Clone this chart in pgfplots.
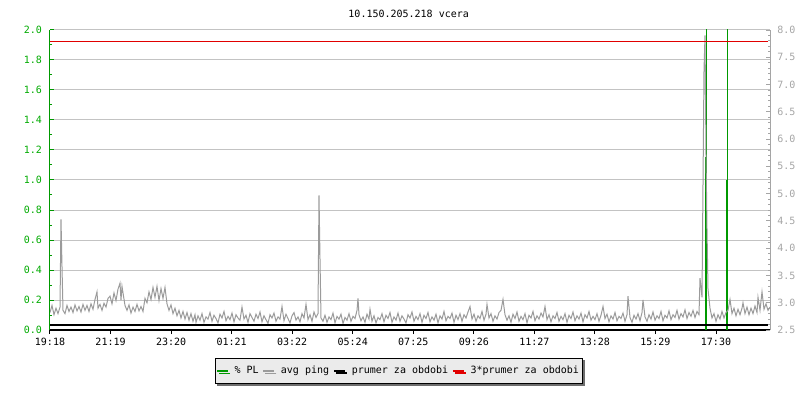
\documentclass[border=0pt]{standalone}
\usepackage{pgfplots}
\pgfplotsset{compat=1.18}
\usepackage{fontspec}
\setmainfont{DejaVu Sans Mono}
\usetikzlibrary{shadows}
\definecolor{plgreen}{RGB}{0,153,0}
\definecolor{labgreen}{RGB}{0,170,0}
\definecolor{pinggray}{RGB}{155,155,155}
\definecolor{gridgray}{RGB}{195,195,195}
\definecolor{rlabgray}{RGB}{165,165,165}
\definecolor{meanred}{RGB}{225,0,0}
\definecolor{legfill}{RGB}{235,235,235}
\definecolor{shadowgray}{RGB}{110,110,110}
\pgfplotsset{
  base/.style={scale only axis, width=540pt, height=225pt, at={(0,0)}, anchor=south west,
    xmin=0, xmax=1440,
    /pgf/number format/assume math mode=true,
    tick label style={font=\fontsize{7.5}{9}\selectfont},
    major tick length=3pt, minor tick length=1.8pt, tick align=inside,
  }
}
\begin{document}
\begin{tikzpicture}
\useasboundingbox (-37.5pt,-52.5pt) rectangle (562.5pt,247.5pt);
\begin{axis}[base,
  ymin=0, ymax=2,
  axis x line*=bottom, axis y line*=left,
  xtick={0,121.09,242.18,363.27,484.36,605.45,726.55,847.64,968.73,1089.82,1210.91,1332},
  xticklabels={19:18,21:19,23:20,01:21,03:22,05:24,07:25,09:26,11:27,13:28,15:29,17:30},
  x axis line style={black, line width=0.9pt, -},
  y axis line style={plgreen, line width=0.75pt, -},
  ytick={0,0.2,0.4,0.6,0.8,1.0,1.2,1.4,1.6,1.8,2.0},
  minor y tick num=1,
  yticklabel style={labgreen, xshift=-2.5pt, /pgf/number format/.cd, fixed, fixed zerofill, precision=1},
  xticklabel style={black, yshift=-2.5pt},
  ymajorgrids, major grid style={gridgray, line width=0.75pt},
  xtick style={black, line width=0.75pt, yshift=-3pt},
  ytick style={plgreen, line width=0.75pt},
]
\addplot[plgreen, line width=0.75pt, ycomb, mark=none] coordinates {(1310,1.15)(1312,2.1)(1353,1.0)(1355,2.1)};
\end{axis}
\begin{axis}[base,
  ymin=2.5, ymax=8,
  axis y line*=right, axis x line=none,
  ytick={2.5,3,3.5,4,4.5,5,5.5,6,6.5,7,7.5,8},
  minor y tick num=4,
  yticklabel style={rlabgray, xshift=2pt, /pgf/number format/.cd, fixed, fixed zerofill, precision=1},
  y axis line style={rlabgray, line width=0.75pt, -},
  ytick style={rlabgray, line width=0.75pt},
  legend columns=4,
  legend cell align=left,
  legend style={at={(0.4847,-0.1367)}, anchor=center, fill=legfill, draw=black, line width=0.75pt,
    font=\fontsize{7.5}{9}\selectfont,
    drop shadow={shadow xshift=1.5pt, shadow yshift=-1.5pt, fill=shadowgray, opacity=1},
    /tikz/every odd column/.append style={column sep=0.5pt},
    /tikz/every even column/.append style={column sep=1pt},
    inner xsep=1pt, inner ysep=4pt},
  legend image code/.code={\draw[#1, line width=1.1pt] (0pt,0pt) -- (8.25pt,0pt); \path (10.25pt,0pt);},
]
\addlegendimage{plgreen}
\addlegendentry{\% PL}
\addplot[pinggray, line width=0.75pt, mark=none] coordinates {
(0,2.82)(4,2.95)(8,2.78)(12,2.90)(16,2.80)(20,2.92)(22,4.53)(24,3.66)(26,2.86)(30,2.80)(34,2.95)(38,2.84)(42,2.92)(46,2.82)(50,2.96)(54,2.85)(58,2.93)(62,2.83)(66,2.97)(70,2.86)(74,2.95)(78,2.84)(82,2.98)(86,2.88)(90,3.06)(94,3.20)(96,2.90)(100,2.97)(104,2.86)(108,2.99)(112,2.92)(116,3.08)(120,3.12)(124,2.98)(128,3.18)(132,3.04)(136,3.25)(140,3.36)(142,3.05)(144,3.30)(146,3.18)(150,2.95)(154,2.86)(158,2.96)(162,2.81)(166,2.92)(170,2.84)(174,2.97)(178,2.85)(182,2.93)(186,2.84)(190,3.08)(194,3.00)(198,3.20)(202,3.06)(206,3.28)(210,3.10)(214,3.30)(218,3.04)(222,3.26)(226,3.08)(230,3.28)(234,2.98)(238,2.86)(242,2.96)(246,2.80)(250,2.90)(254,2.76)(258,2.86)(262,2.72)(266,2.84)(270,2.70)(274,2.82)(278,2.68)(282,2.80)(286,2.66)(290,2.78)(292,2.64)
(296,2.76)(300,2.68)(304,2.80)(308,2.64)(312,2.74)(316,2.70)(320,2.82)(324,2.66)(328,2.77)(332,2.71)(336,2.63)(340,2.79)(344,2.72)(348,2.84)(352,2.67)(356,2.75)(360,2.69)(364,2.81)(368,2.65)(372,2.78)(376,2.72)(380,2.68)(384,2.92)(388,2.70)(392,2.77)(396,2.64)(400,2.80)(404,2.73)(408,2.66)(412,2.79)(416,2.71)(420,2.83)(424,2.65)(428,2.76)(432,2.69)(436,2.62)(440,2.78)(444,2.72)(448,2.81)(452,2.66)(456,2.74)(460,2.70)(464,2.93)(468,2.67)(472,2.79)(476,2.71)(480,2.63)(484,2.76)(488,2.82)(492,2.68)(496,2.74)(500,2.65)(504,2.80)(508,2.72)(512,2.97)(516,2.69)(520,2.78)(524,2.66)(528,2.83)(532,2.73)(536,2.80)(538,4.97)(540,3.80)(542,2.72)(546,2.66)(550,2.77)(554,2.64)(558,2.74)(562,2.69)(566,2.81)(570,2.63)(574,2.75)(578,2.70)(582,2.79)(586,2.62)(590,2.73)(594,2.68)(598,2.80)(602,2.66)(606,2.75)(610,2.71)(614,2.86)(616,3.08)(618,2.78)(622,2.67)(626,2.74)(630,2.64)(634,2.79)(638,2.70)(640,2.88)(644,2.66)(648,2.76)(652,2.63)(656,2.73)(660,2.69)(664,2.80)(668,2.65)(672,2.77)(676,2.71)(680,2.82)(684,2.64)(688,2.74)(692,2.68)(696,2.81)(700,2.66)(704,2.76)(708,2.70)(712,2.63)(716,2.78)(720,2.72)(724,2.83)(728,2.66)(732,2.75)(736,2.69)(740,2.80)(744,2.64)(748,2.77)(752,2.71)(756,2.82)(760,2.65)(764,2.74)(768,2.68)(772,2.79)(776,2.63)(780,2.76)(784,2.70)(788,2.84)(792,2.67)(796,2.75)(800,2.71)(804,2.81)(808,2.64)(812,2.77)(816,2.69)(820,2.80)(824,2.66)(828,2.78)(832,2.72)(836,2.83)(840,2.93)(844,2.70)(848,2.79)(852,2.66)(856,2.76)(860,2.71)(864,2.84)(868,2.68)(872,2.79)(874,2.97)(878,2.72)(882,2.80)(886,2.66)(890,2.76)(894,2.70)(898,2.82)(902,2.86)(906,3.06)(910,2.78)(914,2.68)(918,2.76)(922,2.64)(926,2.79)(930,2.71)(934,2.83)(938,2.66)(942,2.75)(946,2.69)(950,2.80)(954,2.63)(958,2.77)(962,2.72)(966,2.84)(970,2.67)(974,2.76)(978,2.70)(982,2.81)(986,2.74)(990,2.93)(994,2.69)(998,2.78)(1002,2.65)(1006,2.76)(1010,2.71)(1014,2.82)(1018,2.66)(1022,2.75)(1026,2.69)(1030,2.80)(1034,2.64)(1038,2.77)(1042,2.71)(1046,2.83)(1050,2.67)(1054,2.76)(1058,2.70)(1062,2.81)(1066,2.65)(1070,2.78)(1074,2.72)(1078,2.84)(1082,2.68)(1086,2.75)(1090,2.69)(1094,2.80)(1098,2.66)(1102,2.77)(1106,2.93)(1110,2.71)(1114,2.79)(1118,2.65)(1122,2.76)(1126,2.70)(1130,2.82)(1134,2.67)(1138,2.75)(1142,2.71)(1146,2.81)(1150,2.66)(1154,2.78)(1156,3.12)(1160,2.73)(1164,2.64)(1168,2.77)(1172,2.70)(1176,2.80)(1180,2.67)(1184,2.82)(1186,3.05)(1190,2.74)(1194,2.66)(1198,2.78)(1202,2.70)(1206,2.83)(1210,2.68)(1214,2.76)(1218,2.71)(1222,2.84)(1226,2.67)(1230,2.77)(1234,2.72)(1238,2.85)(1242,2.69)(1246,2.78)(1250,2.73)(1254,2.86)(1258,2.70)(1262,2.80)(1266,2.74)(1270,2.87)(1274,2.71)(1278,2.82)(1282,2.75)(1286,2.86)(1290,2.73)(1294,2.84)(1298,2.78)
(1300,3.45)(1304,3.10)(1308,7.25)(1310,7.90)(1312,5.70)(1314,4.35)(1316,3.25)(1320,2.90)(1324,2.72)(1328,2.80)(1332,2.66)(1336,2.78)(1340,2.70)(1344,2.84)(1348,2.72)(1352,2.82)(1356,2.86)(1360,3.06)(1364,2.80)(1368,2.90)(1372,2.76)(1376,2.88)(1380,2.78)(1384,2.90)(1386,3.00)(1390,2.80)(1394,2.92)(1398,2.78)(1402,2.90)(1406,2.80)(1410,2.94)(1414,2.82)(1416,3.10)(1420,2.86)(1424,3.20)(1428,2.88)(1432,2.98)(1436,2.86)(1440,2.92)
};
\addlegendentry{avg ping}
\addplot[color=black, line width=1.5pt, mark=none] coordinates {(0,2.595)(1436,2.595)};
\addlegendentry{prumer za obdobi}
\addplot[color=meanred, draw=meanred, line width=0.9pt, mark=none] coordinates {(0,7.785)(1436,7.785)};
\addlegendentry{3*prumer za obdobi}
\end{axis}
\node[font=\fontsize{7.5}{9}\selectfont] at (269pt,237pt) {10.150.205.218 vcera};
\end{tikzpicture}
\end{document}
